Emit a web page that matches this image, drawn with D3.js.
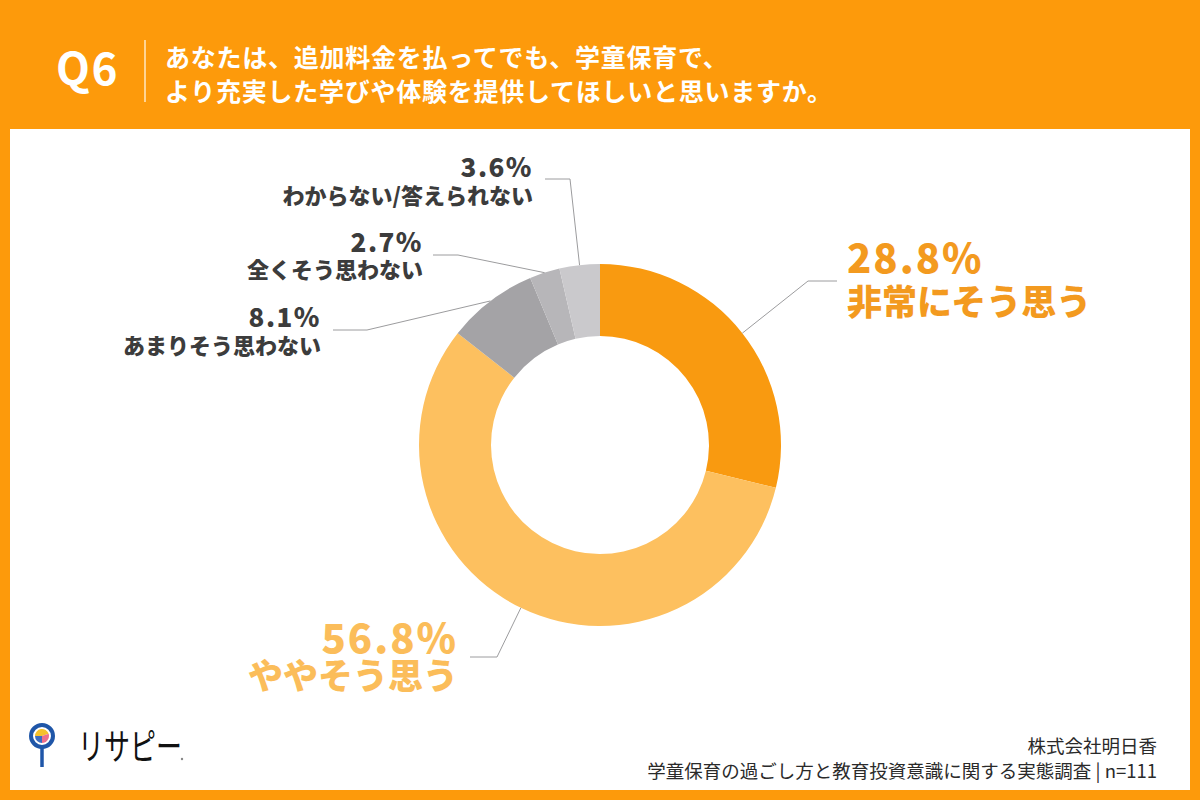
<!DOCTYPE html>
<html>
<head>
<meta charset="utf-8">
<script src="https://cdn.jsdelivr.net/npm/d3@7"></script>
<style>
  html, body { margin: 0; padding: 0; background: #fd9a0b; }
  svg { display: block; font-family: "Noto Sans CJK JP", "Noto Sans", sans-serif; }
</style>
</head>
<body>
<svg id="chart" width="1200" height="800"></svg>
<script>
// survey answers, clockwise from 12 o'clock
const categories = ["非常にそう思う", "ややそう思う", "あまりそう思わない", "全くそう思わない", "わからない/答えられない"]
const values = [28.8, 56.8, 8.1, 2.7, 3.6]
const sliceColors = ["#f99a10", "#fdc05f", "#a4a3a6", "#b7b6b9", "#cac9cc"]

const titleLines = ["あなたは、追加料金を払ってでも、学童保育で、", "より充実した学びや体験を提供してほしいと思いますか。"]
const sourceLines = ["株式会社明日香", "学童保育の過ごし方と教育投資意識に関する実態調査 | n=111"]

// label placement: elbow of the leader line, text anchor point, alignment, sizes
const labelLayout = [
  {elbow: [808, 281], end: [837, 281], tx: 847, ty: 273, anchor: "start", pctSize: 40, txtSize: 35, color: "#f39a1f", gap: 42},
  {elbow: [497, 657], end: [470, 657], tx: 458, ty: 653, anchor: "end", pctSize: 40, txtSize: 35, color: "#fbbd5a", gap: 36},
  {elbow: [367, 330], end: [333, 330], tx: 321, ty: 327, anchor: "end", pctSize: 26, txtSize: 22, color: "#3c3c3c", gap: 27},
  {elbow: [458, 255], end: [433, 255], tx: 423, ty: 252, anchor: "end", pctSize: 26, txtSize: 22, color: "#3c3c3c", gap: 26},
  {elbow: [570, 179], end: [545, 179], tx: 533, ty: 177, anchor: "end", pctSize: 26, txtSize: 22, color: "#3c3c3c", gap: 27}
]

const width = 1200, height = 800
const cx = 600, cy = 445
const outerR = 181, innerR = 109

const svg = d3.select("#chart")

// orange frame + white panel
svg.append("rect").attr("width", width).attr("height", height).attr("fill", "#fd9a0b")
svg.append("rect")
  .attr("x", 10).attr("y", 129)
  .attr("width", 1180).attr("height", 661)
  .attr("fill", "#ffffff")

// header
svg.append("text")
  .attr("x", 56).attr("y", 85)
  .attr("fill", "#ffffff")
  .attr("font-size", 44).attr("font-weight", 700)
  .attr("letter-spacing", 1.5)
  .text("Q6")
svg.append("line")
  .attr("x1", 145).attr("x2", 145).attr("y1", 40).attr("y2", 102)
  .attr("stroke", "#ffe7c2").attr("stroke-width", 1.5)
svg.append("g").selectAll("text")
  .data(titleLines)
  .join("text")
    .attr("x", 165)
    .attr("y", (d, i) => 67 + i * 34)
    .attr("fill", "#ffffff")
    .attr("font-size", 25).attr("font-weight", 700)
    .attr("letter-spacing", 0.75)
    .text(d => d)

// donut
const pie = d3.pie().sort(null).value(d => d)
const arcs = pie(values)
const arc = d3.arc().innerRadius(innerR).outerRadius(outerR)
const edge = d3.arc().innerRadius(outerR).outerRadius(outerR)

const g = svg.append("g").attr("transform", `translate(${cx},${cy})`)
g.selectAll("path")
  .data(arcs)
  .join("path")
    .attr("d", arc)
    .attr("fill", (d, i) => sliceColors[i])

// leader lines
svg.append("g").selectAll("polyline")
  .data(arcs)
  .join("polyline")
    .attr("points", (d, i) => {
      const c = edge.centroid(d)
      const L = labelLayout[i]
      return [[cx + c[0], cy + c[1]], L.elbow, L.end].map(p => p.join(",")).join(" ")
    })
    .attr("fill", "none")
    .attr("stroke", "#9c9c9e")
    .attr("stroke-width", 1)

// labels
const lab = svg.append("g").selectAll("g")
  .data(arcs)
  .join("g")

lab.append("text")
  .attr("x", (d, i) => labelLayout[i].tx)
  .attr("y", (d, i) => labelLayout[i].ty)
  .attr("text-anchor", (d, i) => labelLayout[i].anchor)
  .attr("font-size", (d, i) => labelLayout[i].pctSize)
  .attr("font-weight", 900)
  .attr("letter-spacing", (d, i) => labelLayout[i].pctSize > 30 ? 2 : 1.5)
  .attr("fill", (d, i) => labelLayout[i].color)
  .text(d => d.data.toFixed(1) + "%")

lab.append("text")
  .attr("x", (d, i) => labelLayout[i].tx)
  .attr("y", (d, i) => labelLayout[i].ty + labelLayout[i].gap)
  .attr("text-anchor", (d, i) => labelLayout[i].anchor)
  .attr("font-size", (d, i) => labelLayout[i].txtSize)
  .attr("font-weight", 900)
  .attr("fill", (d, i) => labelLayout[i].color)
  .text((d, i) => categories[i])

// source
svg.append("g").selectAll("text")
  .data(sourceLines)
  .join("text")
    .attr("x", 1157)
    .attr("y", (d, i) => 753 + i * 25)
    .attr("text-anchor", "end")
    .attr("fill", "#2a2a2a")
    .attr("font-size", 18.5)
    .text(d => d)

// logo
const logo = svg.append("g")
logo.append("line")
  .attr("x1", 42).attr("x2", 42).attr("y1", 748).attr("y2", 767)
  .attr("stroke", "#1f56a8").attr("stroke-width", 3.5)
logo.append("circle")
  .attr("cx", 42).attr("cy", 736).attr("r", 11)
  .attr("fill", "#ffffff").attr("stroke", "#1f56a8").attr("stroke-width", 4)
const logoPie = d3.pie().sort(null)([45, 30, 25])
const logoArc = d3.arc().innerRadius(0).outerRadius(7)
logo.append("g").attr("transform", "translate(42,736) rotate(-90)")
  .selectAll("path")
  .data(logoPie)
  .join("path")
    .attr("d", logoArc)
    .attr("fill", (d, i) => ["#f5c02c", "#ee6f8c", "#3d6dbf"][i])
logo.append("text")
  .attr("x", 78).attr("y", 760)
  .attr("font-size", 36).attr("font-weight", 400)
  .attr("textLength", 104).attr("lengthAdjust", "spacingAndGlyphs")
  .attr("fill", "#111111")
  .text("リサピー")
logo.append("circle").attr("cx", 182).attr("cy", 759).attr("r", 1.2).attr("fill", "#888")
</script>
</body>
</html>
